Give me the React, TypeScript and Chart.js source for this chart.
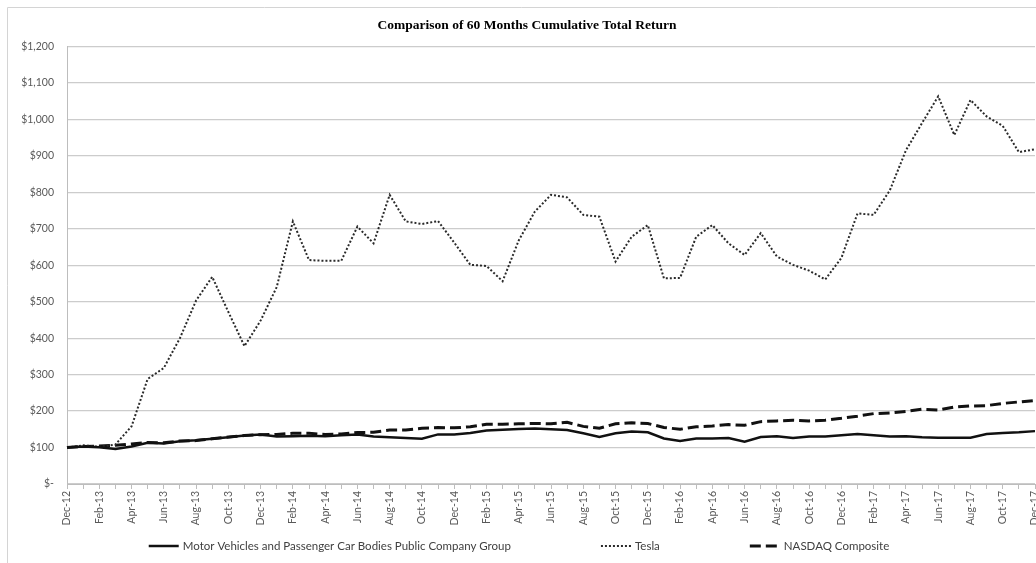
import { useEffect, useRef } from 'react';
import { Chart, registerables } from 'chart.js';

Chart.register(...registerables);

const TITLE = 'Comparison of 60 Months Cumulative Total Return';

const months = [
  'Dec-12',
  'Jan-13', 'Feb-13', 'Mar-13', 'Apr-13', 'May-13', 'Jun-13', 'Jul-13', 'Aug-13', 'Sep-13', 'Oct-13', 'Nov-13', 'Dec-13',
  'Jan-14', 'Feb-14', 'Mar-14', 'Apr-14', 'May-14', 'Jun-14', 'Jul-14', 'Aug-14', 'Sep-14', 'Oct-14', 'Nov-14', 'Dec-14',
  'Jan-15', 'Feb-15', 'Mar-15', 'Apr-15', 'May-15', 'Jun-15', 'Jul-15', 'Aug-15', 'Sep-15', 'Oct-15', 'Nov-15', 'Dec-15',
  'Jan-16', 'Feb-16', 'Mar-16', 'Apr-16', 'May-16', 'Jun-16', 'Jul-16', 'Aug-16', 'Sep-16', 'Oct-16', 'Nov-16', 'Dec-16',
  'Jan-17', 'Feb-17', 'Mar-17', 'Apr-17', 'May-17', 'Jun-17', 'Jul-17', 'Aug-17', 'Sep-17', 'Oct-17', 'Nov-17', 'Dec-17',
];

const seriesNames = [
  'Motor Vehicles and Passenger Car Bodies Public Company Group',
  'Tesla',
  'NASDAQ Composite',
];

const motorVehicles = [
  100, 103, 101, 96, 103, 113, 111, 117, 120, 124, 128, 133, 136,
  130, 131, 132, 131, 134, 136, 130, 128, 126, 124, 136, 136,
  140, 147, 149, 151, 152, 150, 148, 139, 129, 139, 144, 142,
  125, 118, 125, 125, 126, 116, 129, 131, 126, 130, 130, 134,
  137, 134, 130, 131, 128, 127, 127, 127, 137, 140, 142, 145,
];

const tesla = [
  100, 106, 102, 108, 158, 288, 318, 400, 503, 568, 472, 378, 448,
  540, 720, 614, 612, 612, 706, 660, 793, 720, 713, 721, 662,
  601, 598, 556, 668, 747, 793, 786, 738, 733, 610, 678, 710,
  564, 565, 678, 710, 660, 628, 688, 624, 601, 585, 561, 620,
  742, 738, 805, 915, 990, 1063, 957, 1053, 1008, 982, 910, 918,
];

const nasdaq = [
  100, 103, 104, 106, 110, 114, 113, 118, 119, 124, 129, 133, 135,
  136, 139, 139, 136, 137, 141, 142, 148, 148, 153, 155, 154,
  157, 164, 164, 165, 166, 165, 169, 158, 153, 165, 168, 166,
  155, 150, 157, 159, 163, 161, 171, 173, 175, 173, 175, 180,
  186, 193, 195, 199, 205, 203, 211, 214, 215, 221, 225, 229,
];

const yMin = 0;
const yMax = 1200;
const yStep = 100;

const SANS = 'Lato, "Open Sans", "Liberation Sans", sans-serif';

const frameAndLegend = {
  id: 'frameAndLegend',
  beforeDraw(chart: any) {
    const { ctx } = chart;
    ctx.save();
    ctx.strokeStyle = '#d4d4d4';
    ctx.lineWidth = 1;
    ctx.beginPath();
    ctx.moveTo(7.5, chart.height);
    ctx.lineTo(7.5, 7.5);
    ctx.lineTo(chart.width, 7.5);
    ctx.stroke();
    ctx.restore();
  },
  afterDraw(chart: any) {
    const { ctx } = chart;
    ctx.save();
    ctx.font = `11.5px ${SANS}`;
    const sample = 30;
    const textGap = 4;
    const itemGap = 90;
    const items = chart.data.datasets.map((ds: any) => ({
      ds,
      w: sample + textGap + ctx.measureText(ds.label).width,
    }));
    const total = items.reduce((s: number, it: any) => s + it.w, 0) + itemGap * (items.length - 1);
    let x = 519 - total / 2;
    const y = 546;
    items.forEach(({ ds, w }: any) => {
      ctx.setLineDash(ds.borderDash || []);
      ctx.lineWidth = ds.borderWidth;
      ctx.strokeStyle = ds.borderColor;
      ctx.beginPath();
      ctx.moveTo(x, y);
      ctx.lineTo(x + sample, y);
      ctx.stroke();
      ctx.setLineDash([]);
      ctx.fillStyle = '#404040';
      ctx.textBaseline = 'middle';
      ctx.textAlign = 'left';
      ctx.fillText(ds.label, x + sample + textGap, y);
      x += w + itemGap;
    });
    ctx.restore();
  },
};

export default function App() {
  const ref = useRef<HTMLCanvasElement>(null);

  useEffect(() => {
    const chart = new Chart(ref.current as HTMLCanvasElement, {
      type: 'line',
      data: {
        labels: months,
        datasets: [
          {
            label: seriesNames[0],
            data: motorVehicles,
            borderColor: '#111111',
            backgroundColor: '#111111',
            borderWidth: 2.5,
            pointRadius: 0,
            tension: 0,
          },
          {
            label: seriesNames[1],
            data: tesla,
            borderColor: '#2a2a2a',
            backgroundColor: '#2a2a2a',
            borderWidth: 2,
            borderDash: [2, 2],
            pointRadius: 0,
            tension: 0,
          },
          {
            label: seriesNames[2],
            data: nasdaq,
            borderColor: '#111111',
            backgroundColor: '#111111',
            borderWidth: 3,
            borderDash: [11, 5],
            pointRadius: 0,
            tension: 0,
          },
        ],
      },
      options: {
        animation: false,
        responsive: false,
        events: [],
        layout: { padding: { left: 19, right: 1, top: 0, bottom: 0 } },
        plugins: {
          legend: { display: false },
          tooltip: { enabled: false },
          title: {
            display: true,
            text: TITLE,
            color: '#000000',
            font: { family: '"Liberation Serif", "Times New Roman", serif', size: 13.5, weight: 'bold' },
            padding: { top: 17.5, bottom: 12.7 },
          },
        },
        scales: {
          x: {
            offset: false,
            grid: { drawOnChartArea: false, drawTicks: true, tickLength: 5, color: '#bdbdbd' },
            border: { color: '#bdbdbd' },
            ticks: {
              autoSkip: false,
              maxRotation: 90,
              minRotation: 90,
              padding: 2,
              color: '#595959',
              font: { family: SANS, size: 10.5 },
              callback: (_v: any, i: number) => (i % 2 === 0 ? months[i] : ''),
            },
            afterFit: (scale: any) => {
              scale.height = 79;
              scale.paddingLeft = 0;
              scale.paddingRight = 0;
            },
          },
          y: {
            min: yMin,
            max: yMax,
            grid: { color: '#cccccc', lineWidth: 1.2, drawTicks: false },
            border: { color: '#bdbdbd' },
            ticks: {
              stepSize: yStep,
              padding: 13,
              color: '#595959',
              font: { family: SANS, size: 10.5 },
              callback: (v: any) => (Number(v) === 0 ? '$-' : '$' + Number(v).toLocaleString('en-US')),
            },
            afterFit: (scale: any) => {
              scale.width = 48;
            },
          },
        },
      },
      plugins: [frameAndLegend],
    });
    return () => chart.destroy();
  }, []);

  return (
    <div style={{ position: 'absolute', left: 0, top: 0, width: 1036, height: 563, overflow: 'hidden', background: '#ffffff' }}>
      <canvas ref={ref} width={1036} height={563} style={{ display: 'block' }} />
    </div>
  );
}
